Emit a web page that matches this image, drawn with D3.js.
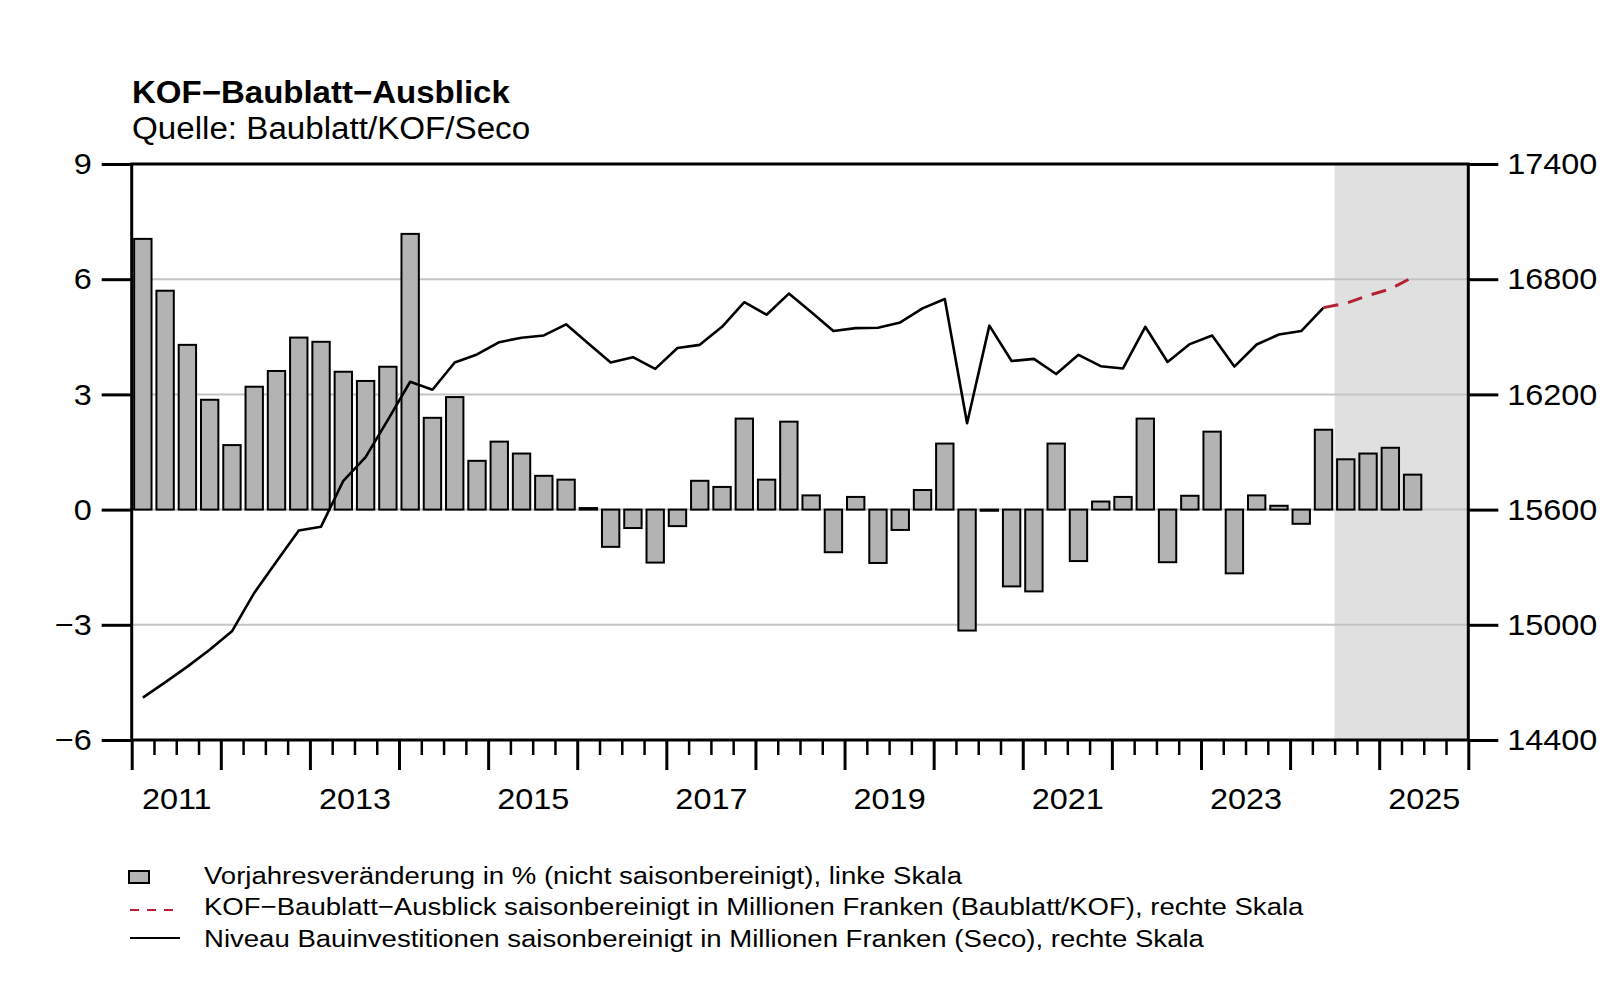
<!DOCTYPE html>
<html>
<head>
<meta charset="utf-8">
<script src="https://cdn.jsdelivr.net/npm/d3@7"></script>
<style>
  html, body { margin: 0; padding: 0; background: #ffffff; }
  svg { display: block; }
  text { font-family: "Liberation Sans", Arial, Helvetica, sans-serif; fill: #000; }
</style>
</head>
<body>
<svg id="chart" width="1600" height="995"></svg>
<script>
// ---------------- DATA ----------------
const quarters = [
  "2011Q1","2011Q2","2011Q3","2011Q4","2012Q1","2012Q2","2012Q3","2012Q4",
  "2013Q1","2013Q2","2013Q3","2013Q4","2014Q1","2014Q2","2014Q3","2014Q4",
  "2015Q1","2015Q2","2015Q3","2015Q4","2016Q1","2016Q2","2016Q3","2016Q4",
  "2017Q1","2017Q2","2017Q3","2017Q4","2018Q1","2018Q2","2018Q3","2018Q4",
  "2019Q1","2019Q2","2019Q3","2019Q4","2020Q1","2020Q2","2020Q3","2020Q4",
  "2021Q1","2021Q2","2021Q3","2021Q4","2022Q1","2022Q2","2022Q3","2022Q4",
  "2023Q1","2023Q2","2023Q3","2023Q4","2024Q1","2024Q2","2024Q3","2024Q4",
  "2025Q1","2025Q2"
];
// Vorjahresveränderung in % (left scale)
const yoyChange = [
  7.05, 5.70, 4.29, 2.86, 1.68, 3.20, 3.61, 4.48,
  4.37, 3.59, 3.35, 3.72, 7.18, 2.39, 2.93, 1.27,
  1.77, 1.46, 0.88, 0.78, 0.04, -0.97, -0.48, -1.38,
  -0.43, 0.75, 0.59, 2.37, 0.78, 2.29, 0.37, -1.11,
  0.33, -1.39, -0.53, 0.51, 1.72, -3.15, -0.03, -2.00,
  -2.13, 1.72, -1.34, 0.21, 0.33, 2.37, -1.37, 0.36,
  2.03, -1.66, 0.37, 0.10, -0.37, 2.08, 1.31, 1.46,
  1.61, 0.91
];
// Niveau Bauinvestitionen (Seco), right scale, 2011Q1..2024Q2
const levelQuarters = quarters.slice(0, 54);
const levelSeco = [
  14621, 14700, 14782, 14870, 14966, 15166, 15330, 15491,
  15511, 15750, 15873, 16067, 16266, 16224, 16366, 16408,
  16472, 16495, 16507, 16565, 16465, 16366, 16394, 16333,
  16442, 16458, 16552, 16680, 16615, 16725, 16629, 16530,
  16545, 16547, 16575, 16648, 16697, 16050, 16558, 16374,
  16385, 16306, 16406, 16347, 16335, 16552, 16369, 16462,
  16507, 16345, 16460, 16512, 16530, 16652
];
// KOF-Baublatt-Ausblick (forecast), right scale
const forecastQuarters = ["2024Q2","2024Q3","2024Q4","2025Q1","2025Q2"];
const forecastKOF = [16652, 16674, 16715, 16749, 16810];

const forecastStart = "2024Q3";
const leftTicks = [-6, -3, 0, 3, 6, 9];
const rightTicks = [14400, 15000, 15600, 16200, 16800, 17400];
const yearLabels = ["2011", "2013", "2015", "2017", "2019", "2021", "2023", "2025"];

const titleText = "KOF\u2212Baublatt\u2212Ausblick";
const subtitleText = "Quelle: Baublatt/KOF/Seco";
const legendLabels = [
  "Vorjahresveränderung in % (nicht saisonbereinigt), linke Skala",
  "KOF\u2212Baublatt\u2212Ausblick saisonbereinigt in Millionen Franken (Baublatt/KOF), rechte Skala",
  "Niveau Bauinvestitionen saisonbereinigt in Millionen Franken (Seco), rechte Skala"
];

// ---------------- LAYOUT ----------------
const L = 131.7, R = 1468.3, T = 164, B = 740;
const fs = 30, sxTick = 1.08;
const svg = d3.select("#chart");
svg.append("rect").attr("width", 1600).attr("height", 995).attr("fill", "#fff");

// horizontal stretch of text around its anchor (reference font is slightly wide)
function stretch(sel, s) {
  sel.each(function () {
    const t = d3.select(this);
    const ax = +t.attr("x") || 0;
    t.attr("transform", `translate(${ax * (1 - s)},0) scale(${s},1)`);
  });
}

const x = d3.scaleLinear().domain([2011, 2026]).range([L, R]);
const yL = d3.scaleLinear().domain([-6, 9]).range([B, T]);
const yR = d3.scaleLinear().domain([14400, 17400]).range([B, T]);

function qTime(q) {
  const yr = +q.slice(0, 4), qq = +q.slice(5);
  return yr + (qq - 1) / 4;
}
const qCenter = q => x(qTime(q) + 0.125);
const qw = x(2011.25) - x(2011);

// forecast shade
svg.append("rect")
  .attr("x", x(qTime(forecastStart))).attr("y", T)
  .attr("width", R - x(qTime(forecastStart))).attr("height", B - T)
  .attr("fill", "#e0e0e0");

// grid
svg.append("g").selectAll("line").data(leftTicks.filter(d => d > -6 && d < 9)).join("line")
  .attr("x1", L).attr("x2", R)
  .attr("y1", d => yL(d)).attr("y2", d => yL(d))
  .attr("stroke", "#c4c4c4").attr("stroke-width", 2);

// bars
const bw = qw * 0.78;
svg.append("g").selectAll("rect").data(quarters.map((q, i) => ({ q, v: yoyChange[i] }))).join("rect")
  .attr("x", d => qCenter(d.q) - bw / 2)
  .attr("width", bw)
  .attr("y", d => Math.min(yL(d.v), yL(0)))
  .attr("height", d => Math.abs(yL(d.v) - yL(0)))
  .attr("fill", "#b3b3b3").attr("stroke", "#000").attr("stroke-width", 2);

// Seco line
const lineR = d3.line().x(d => qCenter(d.q)).y(d => yR(d.v));
svg.append("path")
  .datum(levelQuarters.map((q, i) => ({ q, v: levelSeco[i] })))
  .attr("d", lineR).attr("fill", "none").attr("stroke", "#000")
  .attr("stroke-width", 2.6).attr("stroke-linejoin", "round");

// forecast line
svg.append("path")
  .datum(forecastQuarters.map((q, i) => ({ q, v: forecastKOF[i] })))
  .attr("d", lineR).attr("fill", "none").attr("stroke", "#b52035")
  .attr("stroke-width", 3).attr("stroke-dasharray", "15,10");

// box
svg.append("rect").attr("x", L).attr("y", T).attr("width", R - L).attr("height", B - T)
  .attr("fill", "none").attr("stroke", "#000").attr("stroke-width", 3);

function styleAxis(g, w) {
  g.select(".domain").remove();
  g.selectAll(".tick line").attr("stroke", "#000").attr("stroke-width", w);
  g.selectAll(".tick text").attr("font-size", fs)
    .attr("font-family", "Liberation Sans, Arial, sans-serif").attr("fill", "#000")
    .call(stretch, sxTick);
}
const fmt = d => (d < 0 ? "\u2212" + Math.abs(d) : String(d));

// left axis
svg.append("g").attr("transform", `translate(${L},0)`)
  .call(d3.axisLeft(yL).tickValues(leftTicks).tickSize(30).tickPadding(10).tickFormat(fmt))
  .call(g => styleAxis(g, 3));

// right axis
svg.append("g").attr("transform", `translate(${R},0)`)
  .call(d3.axisRight(yR).tickValues(rightTicks).tickSize(30).tickPadding(9).tickFormat(d => String(d)))
  .call(g => styleAxis(g, 3));

// bottom axis: minor (quarters), major (years), labels
const quarterTicks = d3.range(0, 61).map(i => 2011 + i / 4).filter(t => t % 1 !== 0);
const yearTicks = d3.range(2011, 2027);
svg.append("g").attr("transform", `translate(0,${B})`)
  .call(d3.axisBottom(x).tickValues(quarterTicks).tickSize(15).tickFormat(""))
  .call(g => styleAxis(g, 2.5));
svg.append("g").attr("transform", `translate(0,${B})`)
  .call(d3.axisBottom(x).tickValues(yearTicks).tickSize(30).tickFormat(""))
  .call(g => styleAxis(g, 3));
svg.append("g").attr("transform", `translate(0,${B})`)
  .call(d3.axisBottom(x).tickValues(yearLabels.map(s => +s + 0.5)).tickSize(0).tickPadding(48)
    .tickFormat((d, i) => yearLabels[i]))
  .call(g => styleAxis(g, 0));

// titles
svg.append("text").attr("x", 132).attr("y", 103).attr("font-size", 31).attr("font-weight", "bold")
  .text(titleText).call(stretch, 1.065);
svg.append("text").attr("x", 132).attr("y", 139).attr("font-size", 31)
  .text(subtitleText).call(stretch, 1.07);

// legend
const lg = svg.append("g");
lg.append("rect").attr("x", 129).attr("y", 871).attr("width", 20).attr("height", 12)
  .attr("fill", "#b3b3b3").attr("stroke", "#000").attr("stroke-width", 2);
lg.append("line").attr("x1", 130).attr("x2", 180).attr("y1", 910).attr("y2", 910)
  .attr("stroke", "#b52035").attr("stroke-width", 2).attr("stroke-dasharray", "9,8");
lg.append("line").attr("x1", 130).attr("x2", 180).attr("y1", 938).attr("y2", 938)
  .attr("stroke", "#000").attr("stroke-width", 2);
lg.selectAll("text.lab").data(legendLabels).join("text").attr("class", "lab")
  .attr("x", 204).attr("y", (d, i) => 884 + i * 31.5).attr("font-size", 24.5).text(d => d)
  .call(stretch, 1.125);
</script>
</body>
</html>
